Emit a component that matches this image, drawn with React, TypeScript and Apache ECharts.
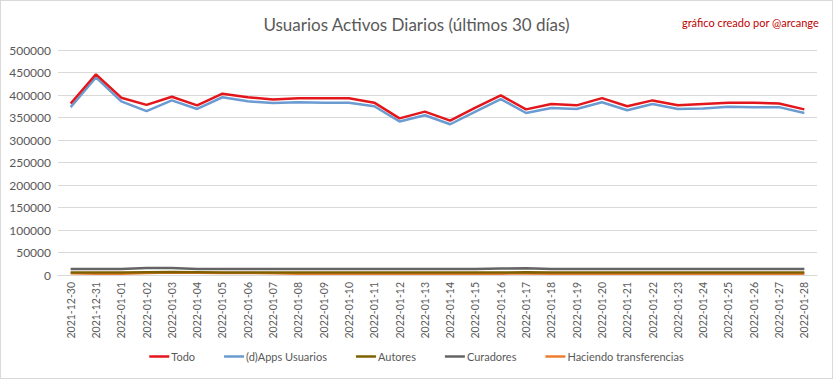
import React, { useEffect, useRef } from "react";
import * as echarts from "echarts";

const categories = [
  "2021-12-30", "2021-12-31", "2022-01-01", "2022-01-02", "2022-01-03", "2022-01-04",
  "2022-01-05", "2022-01-06", "2022-01-07", "2022-01-08", "2022-01-09", "2022-01-10",
  "2022-01-11", "2022-01-12", "2022-01-13", "2022-01-14", "2022-01-15", "2022-01-16",
  "2022-01-17", "2022-01-18", "2022-01-19", "2022-01-20", "2022-01-21", "2022-01-22",
  "2022-01-23", "2022-01-24", "2022-01-25", "2022-01-26", "2022-01-27", "2022-01-28",
];

const todo = [
  381000, 446000, 394000, 378000, 396000, 377000, 403000, 395000, 390000, 393000,
  393000, 393000, 383000, 348000, 363000, 343000, 372000, 399000, 368000, 380000,
  377000, 393000, 375000, 388000, 377000, 380000, 383000, 383000, 381000, 368000,
];

const dappsUsuarios = [
  373000, 439000, 386000, 364000, 388000, 369000, 395000, 386000, 382000, 384000,
  383000, 383000, 375000, 341000, 355000, 335000, 363000, 391000, 360000, 371000,
  369000, 384000, 366000, 380000, 369000, 370000, 374000, 373000, 373000, 360000,
];

const autores = [
  5500, 5500, 5500, 6000, 6500, 6000, 5500, 5500, 5500, 5500,
  5500, 5500, 5500, 5500, 5500, 5500, 5500, 5500, 6000, 5500,
  5500, 5500, 5500, 5500, 5500, 5500, 5500, 5500, 5500, 5500,
];

const curadores = [
  13500, 13500, 13500, 15500, 15500, 13500, 13500, 13500, 13500, 13500,
  13500, 13500, 13500, 13500, 13500, 13500, 13500, 14500, 15000, 13500,
  13500, 13500, 13500, 13500, 13500, 13500, 13500, 13500, 13500, 13500,
];

const haciendoTransferencias = [
  4000, 3000, 3000, 4500, 5500, 5000, 4500, 4500, 4000, 3000,
  3000, 3000, 3000, 3000, 3000, 3000, 3000, 3000, 3500, 3000,
  3000, 3000, 3000, 3000, 3000, 3000, 3000, 3000, 3000, 3000,
];

const seriesNames = ["Todo", "(d)Apps Usuarios", "Autores", "Curadores", "Haciendo transferencias"];
const seriesColors = ["#E3161B", "#6A9BD1", "#7F6000", "#646464", "#ED7D31"];
const yMax = 500000;
const yInterval = 50000;

const FONT = "Lato, 'Open Sans', sans-serif";
const GRAY = "#595959";

export default function App() {
  const ref = useRef<HTMLDivElement>(null);

  useEffect(() => {
    document.body.style.margin = "0";
    if (!ref.current) return;
    const chart = echarts.init(ref.current, undefined, { renderer: "svg" });
    const dataSets = [todo, dappsUsuarios, autores, curadores, haciendoTransferencias];
    const series: any[] = seriesNames.map((name, i) => ({
      name,
      type: "line",
      data: dataSets[i],
      symbol: "none",
      showSymbol: false,
      z: 10 - i,
      lineStyle: { color: seriesColors[i], width: 2.5 },
      itemStyle: { color: seriesColors[i] },
    }));
    series[0].z = 20;
    series[1].z = 19;

    chart.setOption({
      animation: false,
      backgroundColor: "#ffffff",
      textStyle: { fontFamily: FONT },
      title: [
        {
          text: "Usuarios Activos Diarios (últimos 30 días)",
          left: "center",
          top: 10,
          textStyle: { fontFamily: FONT, fontSize: 17, fontWeight: "normal", color: GRAY },
        },
        {
          text: "gráfico creado por @arcange",
          right: 8,
          top: 11,
          textStyle: { fontFamily: FONT, fontSize: 11, fontWeight: "normal", color: "#C00000" },
        },
      ],
      legend: {
        data: seriesNames,
        bottom: 11,
        left: "center",
        icon: "rect",
        itemWidth: 20,
        itemHeight: 2.5,
        itemGap: 29,
        textStyle: { fontFamily: FONT, fontSize: 11, color: GRAY, padding: [0, 0, 0, -3] },
      },
      grid: { left: 57, right: 15, top: 49, bottom: 103, containLabel: false },
      xAxis: {
        type: "category",
        data: categories,
        boundaryGap: true,
        axisLine: { show: true, lineStyle: { color: "#D9D9D9", width: 1 } },
        axisTick: { show: false },
        axisLabel: {
          rotate: 90,
          interval: 0,
          fontFamily: FONT,
          fontSize: 10.5,
          color: GRAY,
          margin: 7,
        },
      },
      yAxis: {
        type: "value",
        min: 0,
        max: yMax,
        interval: yInterval,
        axisLine: { show: false },
        axisTick: { show: false },
        splitLine: { lineStyle: { color: "#D9D9D9", width: 1 } },
        axisLabel: {
          fontFamily: FONT,
          fontSize: 12,
          color: GRAY,
          margin: 7,
          formatter: (v: number) => String(v),
        },
      },
      series,
    });
    return () => chart.dispose();
  }, []);

  return (
    <div
      ref={ref}
      style={{
        width: 831,
        height: 377,
        border: "1px solid #D9D9D9",
        boxSizing: "content-box",
      }}
    />
  );
}
